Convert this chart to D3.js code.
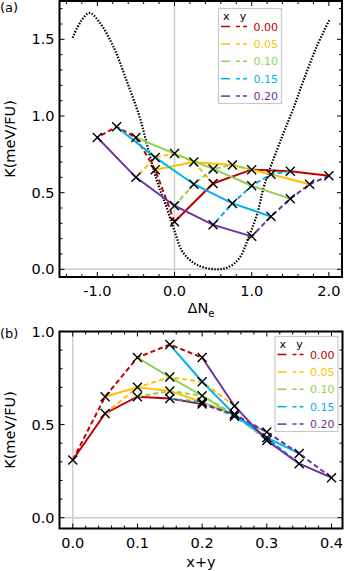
<!DOCTYPE html>
<html><head><meta charset="utf-8">
<script src="https://cdn.jsdelivr.net/npm/d3@7"></script>
<style>body{margin:0;background:#fff}svg{display:block}text{font-family:"DejaVu Sans",sans-serif}</style>
</head><body><svg id="c" width="345" height="571"></svg>
<script>
// compositions
const compValues = ["0.00","0.05","0.10","0.15","0.20"];
const colors = ["#c00000","#ffc000","#92d050","#00b0f0","#7030a0"];
// K[i][j] : x = compValues[i], y = compValues[j]
const K = [
  [0.31, 0.56, 0.65, 0.64, 0.61],
  [0.65, 0.70, 0.68, 0.62, 0.555],
  [0.86, 0.755, 0.655, 0.545, 0.46],
  [0.93, 0.73, 0.555, 0.43, 0.345],
  [0.86, 0.60, 0.415, 0.29, 0.215]
];
// Delta N_e for each (x,y)
const dNe = [
  [0, 0.5, 1.0, 1.5, 2.0],
  [-0.25, 0.25, 0.75, 1.25, 1.75],
  [-0.5, 0.0, 0.5, 1.0, 1.5],
  [-0.75, -0.25, 0.25, 0.75, 1.25],
  [-1.0, -0.5, 0.0, 0.5, 1.0]
];
// x+y for each (x,y)
const xPlusY = [
  [0, 0.05, 0.10, 0.15, 0.20],
  [0.05, 0.10, 0.15, 0.20, 0.25],
  [0.10, 0.15, 0.20, 0.25, 0.30],
  [0.15, 0.20, 0.25, 0.30, 0.35],
  [0.20, 0.25, 0.30, 0.35, 0.40]
];
// dotted curve in panel (a)
const curveX = [-1.32,-1.21,-1.10,-0.97,-0.79,-0.62,-0.45,-0.38,-0.23,-0.10,0.00,0.11,0.29,0.55,0.72,0.85,0.96,1.07,1.17,1.39,1.54,1.67,1.84,2.01];
const curveK = [1.51,1.62,1.672,1.61,1.45,1.23,0.99,0.86,0.58,0.40,0.25,0.11,0.03,0.00,0.02,0.08,0.21,0.36,0.56,0.86,1.05,1.23,1.45,1.63];
const aXTicks = [-1.0, 0.0, 1.0, 2.0];
const aYTicks = [0.0, 0.5, 1.0, 1.5];
const bXTicks = [0.0, 0.1, 0.2, 0.3, 0.4];
const bYTicks = [0.0, 0.5, 1.0];

const svg = d3.select("#c");
const fmt1 = v => d3.format(".1f")(v).replace("\u2212","-");

function panel(cfg){
  const {xs, ys, xVals, minorX, minorY, majX, majY, xfmt, yfmt, grayV} = cfg;
  const g = svg.append("g");
  const [x0,x1] = xs.range(), [y0,y1] = ys.range();
  g.append("line").attr("x1",xs(grayV)).attr("x2",xs(grayV)).attr("y1",y0).attr("y2",y1)
    .attr("stroke","#cccccc").attr("stroke-width",1.5);
  g.append("line").attr("x1",x0).attr("x2",x1).attr("y1",ys(0)).attr("y2",ys(0))
    .attr("stroke","#cccccc").attr("stroke-width",1.5);
  if (cfg.extra) cfg.extra(g);
  const line = d3.line().x(d=>xs(d[0])).y(d=>ys(d[1]));
  for (let c=0;c<5;c++){
    const solid = [0,1,2,3,4].map(j=>[xVals[c][j], K[c][j]]);
    g.append("path").attr("d",line(solid)).attr("fill","none")
      .attr("stroke",colors[c]).attr("stroke-width",2);
    const dashed = [0,1,2,3,4].map(i=>[xVals[i][c], K[i][c]]);
    g.append("path").attr("d",line(dashed)).attr("fill","none")
      .attr("stroke",colors[c]).attr("stroke-width",2).attr("stroke-dasharray","5,3");
  }
  const s = 4.5;
  for (let i=0;i<5;i++) for (let j=0;j<5;j++){
    const px = xs(xVals[i][j]), py = ys(K[i][j]);
    g.append("path").attr("d",`M${px-s},${py-s}L${px+s},${py+s}M${px-s},${py+s}L${px+s},${py-s}`)
      .attr("stroke","#000").attr("stroke-width",1.4).attr("fill","none");
  }
  const tk = (v, maj, axis) => {
    const L = maj?5:3;
    if(axis==="x"){
      const px = xs(v);
      g.append("line").attr("x1",px).attr("x2",px).attr("y1",y0).attr("y2",y0-L).attr("stroke","#000").attr("stroke-width",1);
      g.append("line").attr("x1",px).attr("x2",px).attr("y1",y1).attr("y2",y1+L).attr("stroke","#000").attr("stroke-width",1);
    } else {
      const py = ys(v);
      g.append("line").attr("y1",py).attr("y2",py).attr("x1",x0).attr("x2",x0+L).attr("stroke","#000").attr("stroke-width",1);
      g.append("line").attr("y1",py).attr("y2",py).attr("x1",x1).attr("x2",x1-L).attr("stroke","#000").attr("stroke-width",1);
    }
  };
  minorX.forEach(v=>tk(v, majX.some(m=>Math.abs(m-v)<1e-9), "x"));
  minorY.forEach(v=>tk(v, majY.some(m=>Math.abs(m-v)<1e-9), "y"));
  g.append("rect").attr("x",x0).attr("y",y1).attr("width",x1-x0).attr("height",y0-y1)
    .attr("fill","none").attr("stroke","#000").attr("stroke-width",2);
  majX.forEach(v=>g.append("text").attr("x",xs(v)).attr("y",y0+19).attr("text-anchor","middle")
    .attr("font-size",14.5).text(xfmt(v)));
  majY.forEach(v=>g.append("text").attr("x",x0-5).attr("y",ys(v)+5).attr("text-anchor","end")
    .attr("font-size",14.5).text(yfmt(v)));
  const cy = (y0+y1)/2;
  g.append("text").attr("transform",`translate(15,${cy}) rotate(-90)`).attr("text-anchor","middle")
    .attr("font-size",14.5).text("K(meV/FU)");
  const lg = cfg.legend;
  g.append("rect").attr("x",lg.x).attr("y",lg.y).attr("width",63).attr("height",95)
    .attr("fill","#fff").attr("stroke","#c8c8c8").attr("stroke-width",1.2);
  g.append("text").attr("x",lg.x+7.7).attr("y",lg.y+11).attr("text-anchor","middle").attr("font-size",11).text("x");
  g.append("text").attr("x",lg.x+24.4).attr("y",lg.y+11).attr("text-anchor","middle").attr("font-size",11).text("y");
  for (let c=0;c<5;c++){
    const ry = lg.y + 18 + 17.4*c;
    g.append("line").attr("x1",lg.x+2.5).attr("x2",lg.x+11.5).attr("y1",ry).attr("y2",ry)
      .attr("stroke",colors[c]).attr("stroke-width",1.5);
    g.append("line").attr("x1",lg.x+17.5).attr("x2",lg.x+29).attr("y1",ry).attr("y2",ry)
      .attr("stroke",colors[c]).attr("stroke-width",1.5).attr("stroke-dasharray","4,3");
    g.append("text").attr("x",lg.x+35).attr("y",ry+4).attr("font-size",11).attr("fill",colors[c]).text(compValues[c]);
  }
  return g;
}

const xa = d3.scaleLinear().domain([-1.49, 2.17]).range([59.5, 342]);
const ya = d3.scaleLinear().domain([-0.05, 1.75]).range([277, 1]);
const range = (a,b,s)=>{const r=[];for(let v=a;v<=b+1e-9;v+=s) r.push(+v.toFixed(4));return r;};
panel({xs:xa, ys:ya, xVals:dNe, grayV:0,
  minorX: range(-1.4, 2.0, 0.2), minorY: range(0, 1.7, 0.1),
  majX: aXTicks, majY: aYTicks,
  xfmt: fmt1, yfmt: fmt1,
  legend:{x:218.5, y:8.5},
  extra: g => {
    const pts = curveX.map((v,i)=>[v, curveK[i]]);
    g.append("path").attr("d", d3.line().curve(d3.curveCatmullRom).x(d=>xa(d[0])).y(d=>ya(d[1]))(pts))
      .attr("fill","none").attr("stroke","#000").attr("stroke-width",2.2).attr("stroke-dasharray","1.5,1.5");
  }
});
svg.append("text").attr("x",0).attr("y",12).attr("font-size",13).text("(a)");
const lab = svg.append("text").attr("x",201).attr("y",313).attr("text-anchor","middle").attr("font-size",14.5);
lab.append("tspan").text("ΔN");
lab.append("tspan").attr("font-size",10).attr("dy",4).text("e");

const xb = d3.scaleLinear().domain([-0.0205, 0.417]).range([59.5, 342.5]);
const yb = d3.scaleLinear().domain([-0.058, 1.0]).range([528.5, 331.5]);
panel({xs:xb, ys:yb, xVals:xPlusY, grayV:0,
  minorX: range(0, 0.4, 0.02), minorY: range(0, 1.0, 0.1),
  majX: bXTicks, majY: bYTicks,
  xfmt: fmt1, yfmt: fmt1,
  legend:{x:275, y:336.5}
});
svg.append("text").attr("x",0).attr("y",338).attr("font-size",13).text("(b)");
svg.append("text").attr("x",201).attr("y",567).attr("text-anchor","middle").attr("font-size",14.5).text("x+y");
</script></body></html>
